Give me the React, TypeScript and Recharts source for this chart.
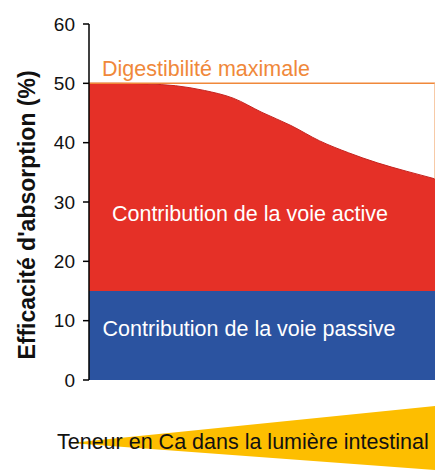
import { AreaChart, Area, XAxis, YAxis, ReferenceLine } from 'recharts';

// position le long de l'axe (teneur en Ca croissante, sans unité)
const positions = [0, 1, 2, 3, 4, 5, 6, 7, 8, 9, 10, 11, 12];
// efficacité totale (%)
const totalAbsorption = [50, 50, 49.9, 49.6, 48.8, 47.5, 45.1, 42.9, 40.3, 38.3, 36.6, 35.2, 33.9];
const passiveAbsorption = [15, 15, 15, 15, 15, 15, 15, 15, 15, 15, 15, 15, 15];
const yTicks = [0, 10, 20, 30, 40, 50, 60];
const maxDigestibility = 50;

const chartData = positions.map((pos, i) => ({
  pos,
  passive: passiveAbsorption[i],
  active: totalAbsorption[i] - passiveAbsorption[i],
}));

const lastTotal = totalAbsorption[totalAbsorption.length - 1];
const font = 'Liberation Sans, Arial, sans-serif';

export default function App() {
  return (
    <div style={{ position: 'relative', width: 435, height: 471, fontFamily: font }}>
      <style>{'body{margin:0}'}</style>
      <AreaChart
        width={435}
        height={471}
        data={chartData}
        margin={{ top: 24, right: 0, left: 0, bottom: 91 }}
      >
        <XAxis
          dataKey="pos"
          type="number"
          domain={[0, 12]}
          height={0}
          tick={false}
          tickLine={false}
          axisLine={{ stroke: '#000', strokeWidth: 1.5 }}
        />
        <YAxis
          width={89}
          domain={[0, 60]}
          ticks={yTicks}
          interval={0}
          tickSize={6}
          tickMargin={8}
          axisLine={{ stroke: '#000', strokeWidth: 1.5 }}
          tickLine={{ stroke: '#000', strokeWidth: 1.5 }}
          tick={{ fill: '#111', fontSize: 19, fontFamily: font }}
        />
        <ReferenceLine y={maxDigestibility} stroke="#F0883A" strokeWidth={1.5} />
        <ReferenceLine
          segment={[
            { x: 12, y: lastTotal },
            { x: 12, y: maxDigestibility },
          ]}
          stroke="#F5B98A"
          strokeWidth={1.5}
        />
        <Area
          type="monotone"
          dataKey="passive"
          stackId="a"
          stroke="none"
          fill="#2B53A0"
          fillOpacity={1}
          isAnimationActive={false}
        />
        <Area
          type="monotone"
          dataKey="active"
          stackId="a"
          stroke="#C42420"
          strokeWidth={1}
          fill="#E53027"
          fillOpacity={1}
          isAnimationActive={false}
        />
      </AreaChart>
      <svg
        width={435}
        height={471}
        style={{ position: 'absolute', left: 0, top: 0, pointerEvents: 'none' }}
      >
        <text
          x={27}
          y={215}
          transform="rotate(-90 27 215)"
          textAnchor="middle"
          dominantBaseline="central"
          fontFamily={font}
          fontWeight="bold"
          fontSize={23}
          fill="#111"
        >
          Efficacité d'absorption (%)
        </text>
        <text x={102} y={76} fontFamily={font} fontSize={21.5} fill="#F0883A">
          Digestibilité maximale
        </text>
        <text x={250} y={221} textAnchor="middle" fontFamily={font} fontSize={21.5} fill="#fff">
          Contribution de la voie active
        </text>
        <text x={249} y={336} textAnchor="middle" fontFamily={font} fontSize={21.5} fill="#fff">
          Contribution de la voie passive
        </text>
        <polygon points="70,443 435,406 435,470" fill="#FDBE00" />
        <text x={57} y={449} fontFamily={font} fontSize={21.5} fill="#111">
          Teneur en Ca dans la lumière intestinal
        </text>
      </svg>
    </div>
  );
}
